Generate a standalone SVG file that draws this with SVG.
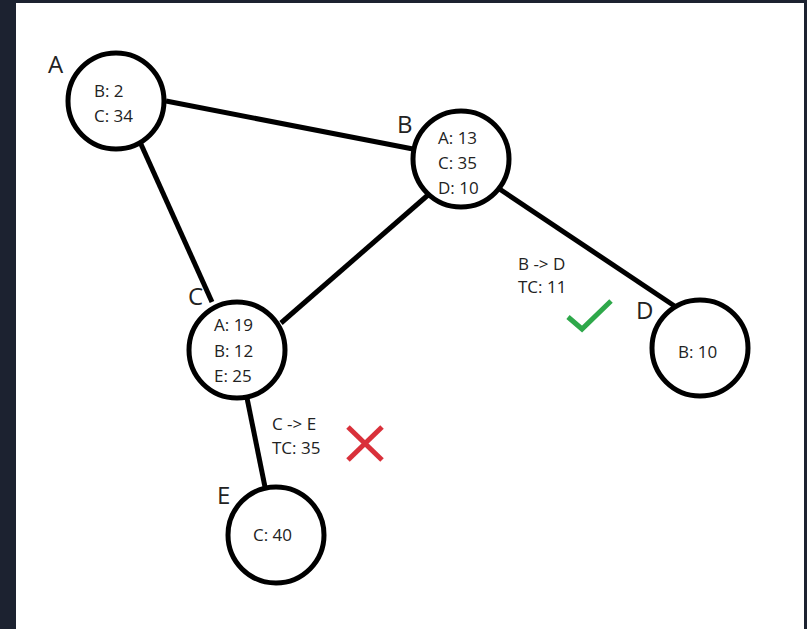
<svg xmlns="http://www.w3.org/2000/svg" width="807" height="629" viewBox="0 0 807 629">
<style>
.node{fill:#fff;stroke:#000;stroke-width:5}
.edge{stroke:#000;stroke-width:5;fill:none}
.t{font-family:"Open Sans","Noto Sans",sans-serif;font-size:17px;fill:#222}
.lbl{font-family:"Open Sans","Noto Sans",sans-serif;font-size:24px;fill:#222}
</style>
<rect x="0" y="0" width="807" height="629" fill="#1c2230"/>
<rect x="16" y="3" width="788" height="626" fill="#fff"/>
<g id="connectors">
<line class="edge" x1="166" y1="101" x2="413" y2="149"/>
<line class="edge" x1="140" y1="142" x2="212" y2="302"/>
<line class="edge" x1="428" y1="195" x2="281" y2="323"/>
<line class="edge" x1="498" y1="188" x2="676" y2="307"/>
<line class="edge" x1="247" y1="398" x2="265" y2="487"/>
</g>
<g id="node-A">
<circle class="node" cx="116" cy="101" r="48"/>
<text class="lbl" x="48" y="73">A</text>
<text class="t" x="94" y="97">B: 2</text>
<text class="t" x="94" y="122">C: 34</text>
</g>
<g id="node-B">
<circle class="node" cx="461" cy="159" r="48"/>
<text class="lbl" x="397" y="133">B</text>
<text class="t" x="438" y="144">A: 13</text>
<text class="t" x="438" y="169">C: 35</text>
<text class="t" x="438" y="194">D: 10</text>
</g>
<g id="node-C">
<circle class="node" cx="237" cy="350" r="48"/>
<text class="lbl" x="188" y="305">C</text>
<text class="t" x="214" y="331">A: 19</text>
<text class="t" x="214" y="357">B: 12</text>
<text class="t" x="214" y="382">E: 25</text>
</g>
<g id="node-D">
<circle class="node" cx="700" cy="348" r="48"/>
<text class="lbl" x="636" y="319">D</text>
<text class="t" x="678" y="358">B: 10</text>
</g>
<g id="node-E">
<circle class="node" cx="276" cy="535" r="48"/>
<text class="lbl" x="217" y="504">E</text>
<text class="t" x="253" y="541">C: 40</text>
</g>
<g id="edge-labels">
<text class="t" x="518" y="270">B -&gt; D</text>
<text class="t" x="518" y="293">TC: 11</text>
<text class="t" x="272" y="430">C -&gt; E</text>
<text class="t" x="272" y="454">TC: 35</text>
</g>
<g id="marks">
<polyline points="568,317 582,329 611,301" fill="none" stroke="#2ea84a" stroke-width="5"/>
<line x1="348" y1="427" x2="382" y2="460" stroke="#d9303a" stroke-width="5"/>
<line x1="382" y1="427" x2="348" y2="460" stroke="#d9303a" stroke-width="5"/>
</g>
</svg>
